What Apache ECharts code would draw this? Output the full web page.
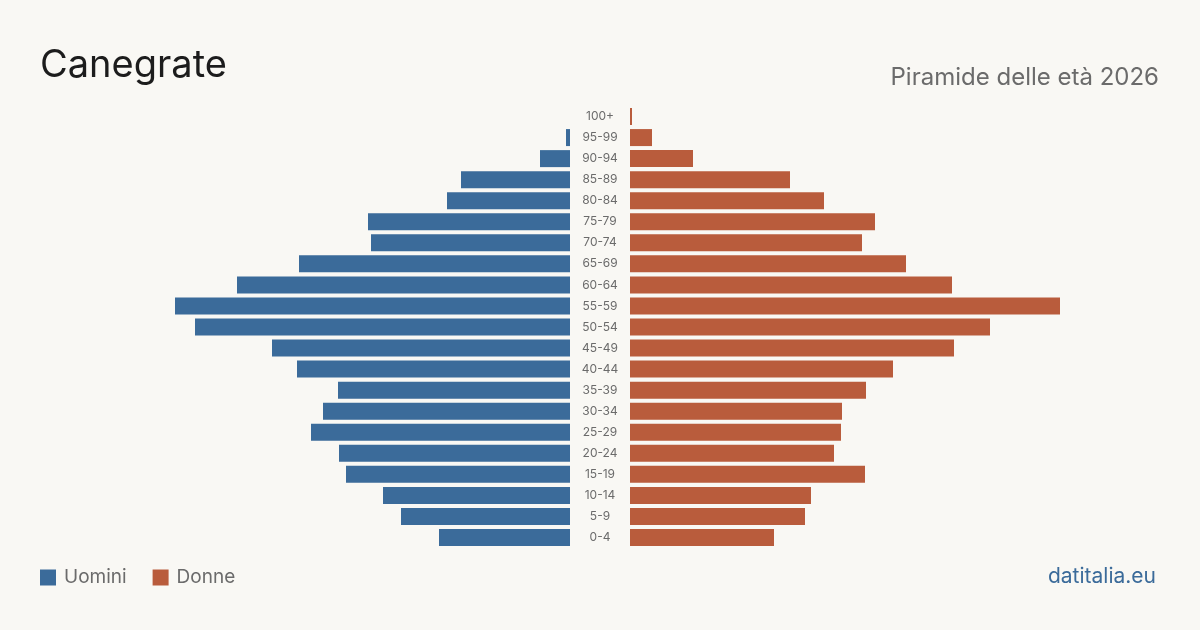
<!DOCTYPE html>
<html>
<head>
<meta charset="utf-8">
<script src="https://cdn.jsdelivr.net/npm/echarts@6/dist/echarts.min.js"></script>
<style>
  html, body { margin: 0; padding: 0; background: #f9f8f4; }
  #chart { width: 1200px; height: 630px; }
</style>
</head>
<body>
<div id="chart"></div>
<script>
// age classes, bottom to top
const ageClasses = ['0-4', '5-9', '10-14', '15-19', '20-24', '25-29', '30-34', '35-39', '40-44', '45-49',
  '50-54', '55-59', '60-64', '65-69', '70-74', '75-79', '80-84', '85-89', '90-94', '95-99', '100+'];
// residents per class
const uomini = [131, 169, 187, 224, 231, 259, 247, 232, 273, 298, 375, 395, 333, 271, 199, 202, 123, 109, 30, 4, 0];
const donne = [144, 175, 181, 235, 204, 211, 212, 236, 263, 324, 360, 430, 322, 276, 232, 245, 194, 160, 63, 22, 2];
const scaleMax = 430;

const blu = '#3b6b9a';
const rosso = '#b95c3c';
const font = 'Inter, "Noto Sans", sans-serif';

let chart = echarts.init(document.getElementById('chart'));
chart.setOption({
  backgroundColor: '#f9f8f4',
  animation: false,
  textStyle: {fontFamily: font},
  title: [{
    text: 'Canegrate',
    left: 35,
    top: 42,
    textStyle: {fontSize: 38, fontWeight: 'normal', color: '#1c1c1c', fontFamily: font}
  }, {
    text: 'Piramide delle età 2026',
    right: 36,
    top: 61,
    textStyle: {fontSize: 24, fontWeight: 'normal', color: '#6b6b6b', fontFamily: font}
  }, {
    text: 'datitalia.eu',
    right: 39,
    top: 561,
    textStyle: {fontSize: 21, fontWeight: 'normal', color: '#3b6b9a', fontFamily: font}
  }],
  legend: {
    left: 40,
    top: 568,
    padding: 0,
    icon: 'rect',
    itemWidth: 16,
    itemHeight: 16,
    itemGap: 26,
    textStyle: {fontSize: 19, color: '#6b6b6b', fontFamily: font, padding: [0, 0, 0, 3]},
    data: ['Uomini', 'Donne']
  },
  grid: [
    {left: 140, width: 430, top: 106, height: 442},
    {left: 630, width: 430, top: 106, height: 442}
  ],
  xAxis: [
    {gridIndex: 0, type: 'value', min: 0, max: scaleMax, inverse: true, show: false},
    {gridIndex: 1, type: 'value', min: 0, max: scaleMax, show: false}
  ],
  yAxis: [
    {gridIndex: 0, type: 'category', data: ageClasses, show: false},
    {
      gridIndex: 1, type: 'category', data: ageClasses,
      axisLine: {show: false},
      axisTick: {show: false},
      axisLabel: {align: 'center', margin: 30, fontSize: 12, color: '#6b6b6b', fontFamily: font, padding: [4, 0, 0, 0]}
    }
  ],
  series: [
    {name: 'Uomini', type: 'bar', xAxisIndex: 0, yAxisIndex: 0, data: uomini, barWidth: 17, itemStyle: {color: blu}},
    {name: 'Donne', type: 'bar', xAxisIndex: 1, yAxisIndex: 1, data: donne, barWidth: 17, itemStyle: {color: rosso}}
  ]
});
</script>
</body>
</html>
